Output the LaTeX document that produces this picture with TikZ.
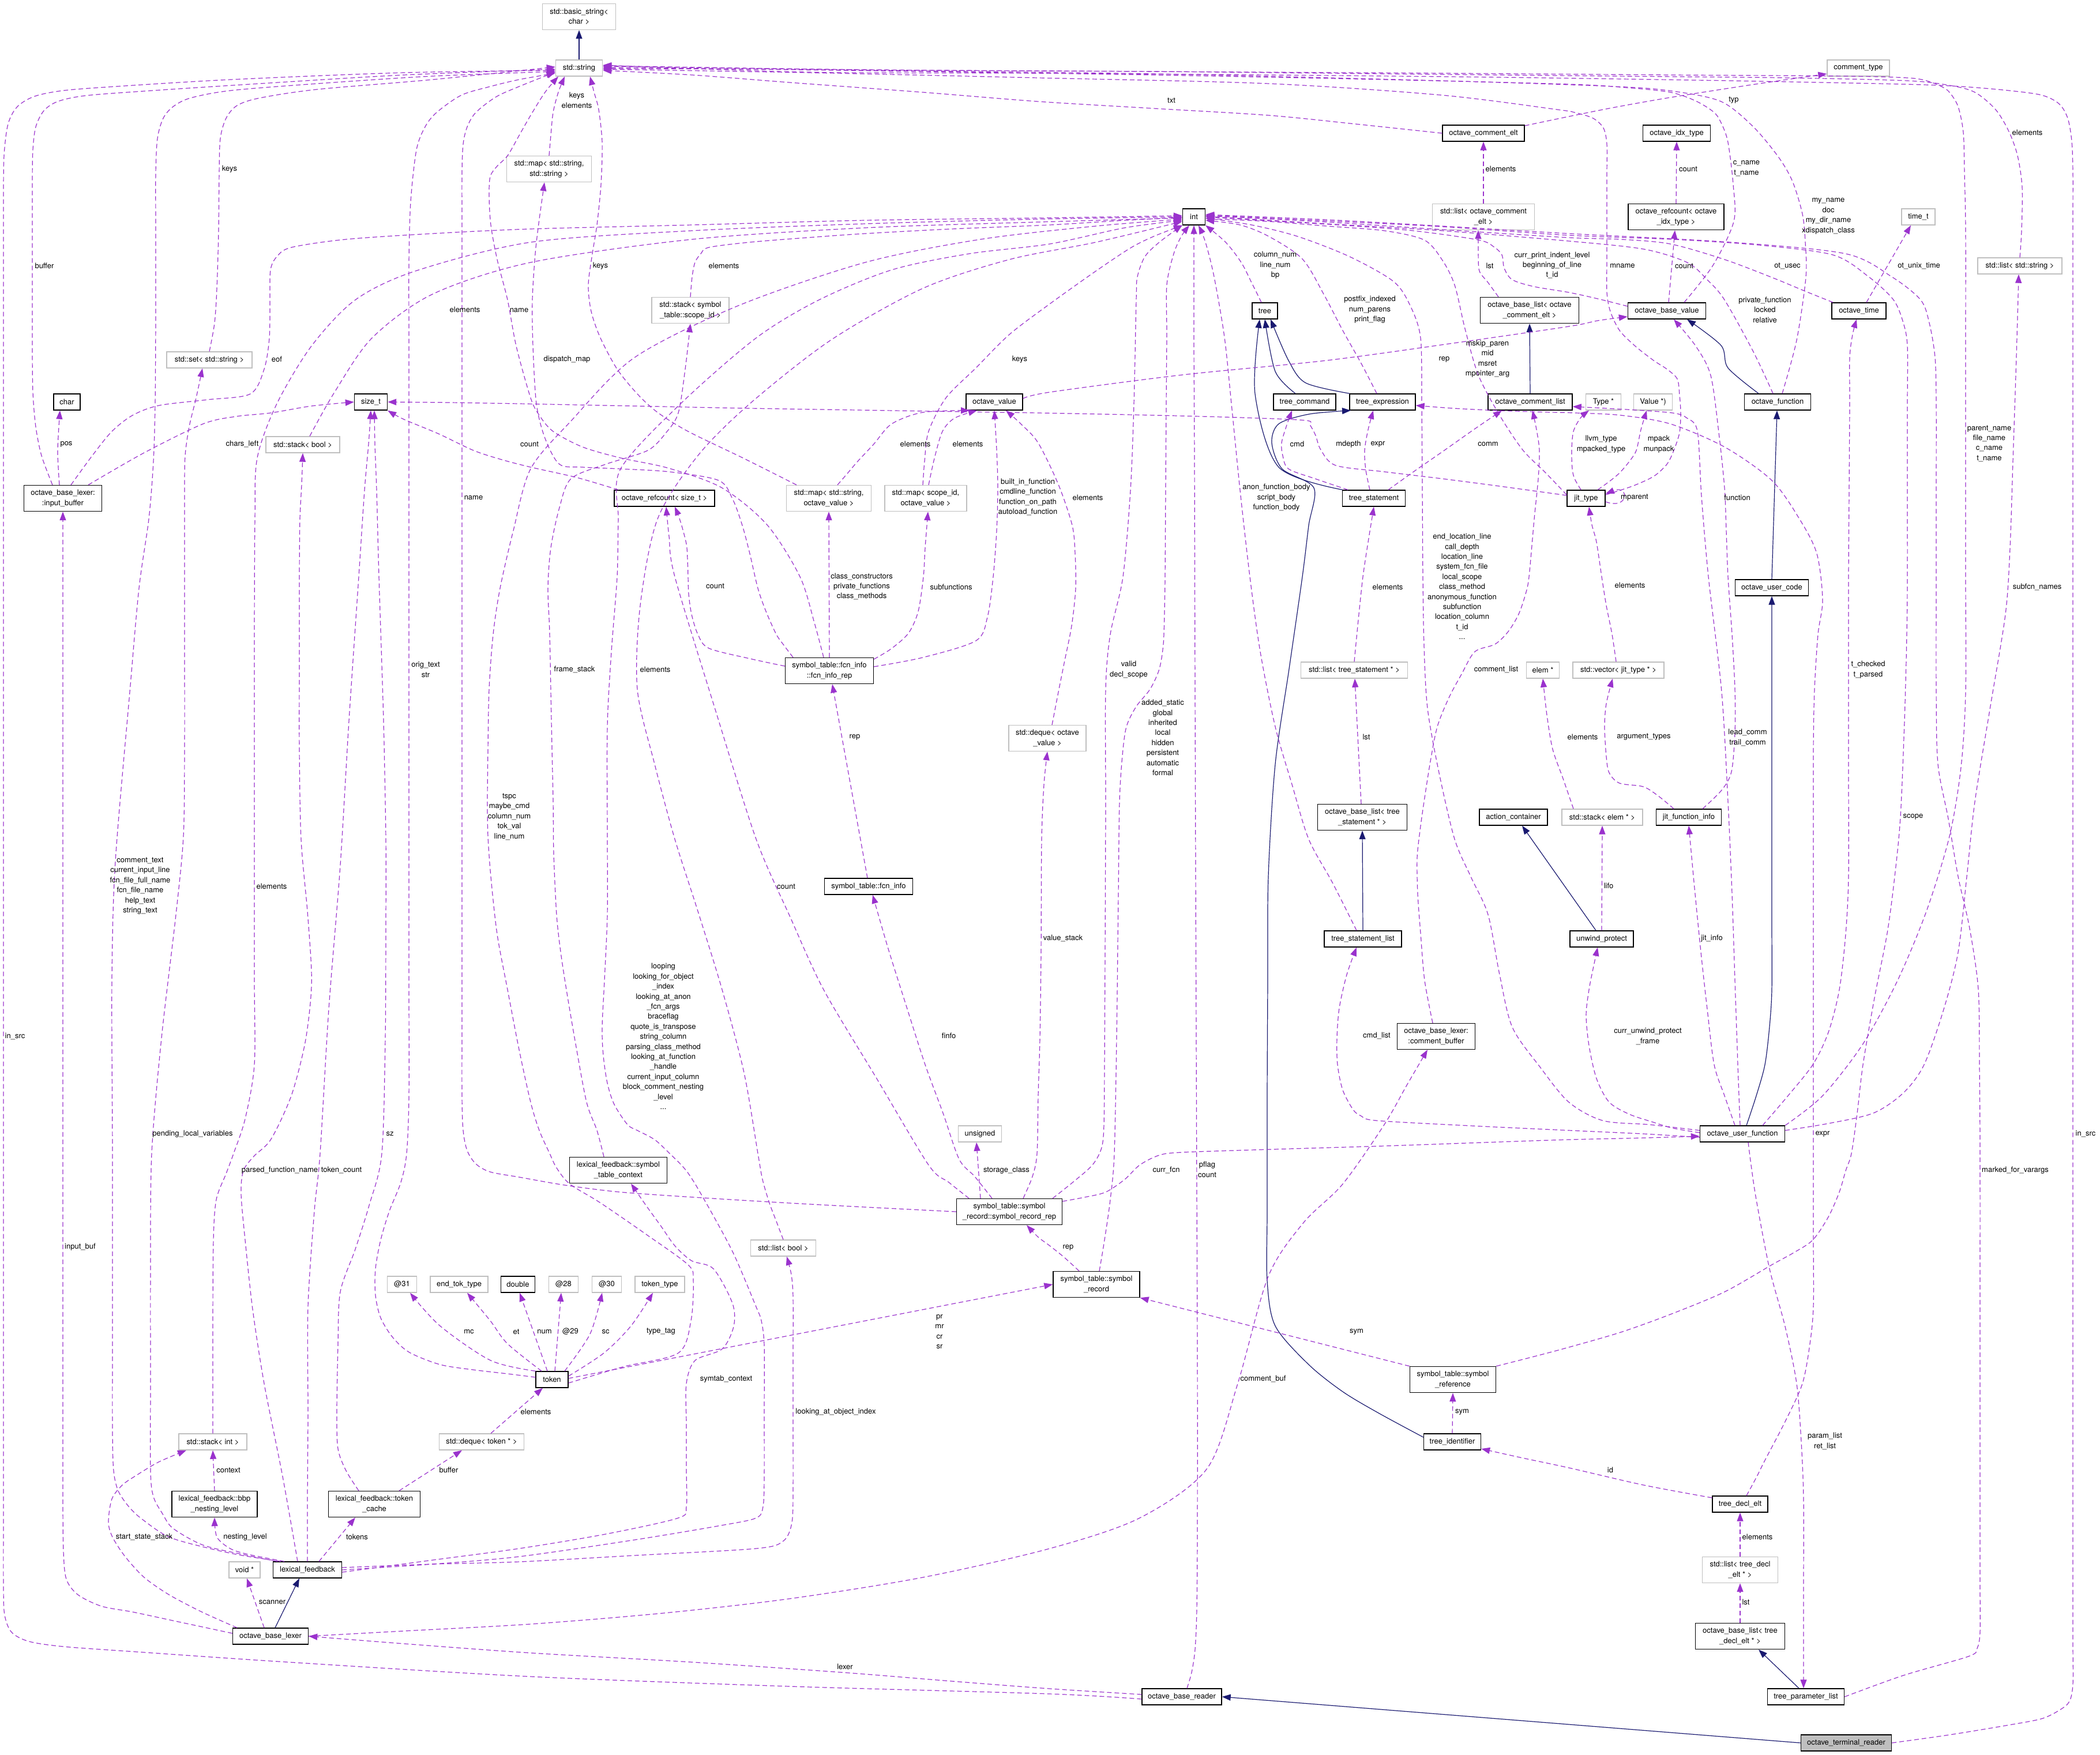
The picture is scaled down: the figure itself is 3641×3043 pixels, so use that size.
\documentclass[tikz,border=0pt]{standalone}
\usepackage{fontspec}
\setmainfont{TeX Gyre Heros}
\usetikzlibrary{arrows.meta}
\definecolor{purp}{HTML}{9A32CD}
\definecolor{navy}{HTML}{191970}
\definecolor{extg}{HTML}{BFBFBF}
\definecolor{fillg}{HTML}{BFBFBF}
\newcommand\dfont{\fontsize{13}{17.4}\selectfont}
\begin{document}
\begin{tikzpicture}[x=1pt,y=-1pt,
 box/.style={draw=black, line width=1.4pt, inner sep=0pt, font=\dfont, align=center, minimum height=28pt},
 ext/.style={box, draw=extg},
 two/.style={minimum height=45pt},
 mem/.style={draw=purp, line width=1.2pt, dash pattern=on 8pt off 5pt, -{Triangle[length=15pt,width=11pt]}},
 inh/.style={draw=navy, line width=1.2pt, -{Triangle[length=15pt,width=11pt]}},
 lbl/.style={font=\dfont, align=center, inner sep=0pt}]
\fill[white] (0,0) rectangle (3641,3043);
\useasboundingbox (0,0) rectangle (3641,3043);
% ---------------- nodes
\node[ext,two,minimum width=127pt] (bstr) at (1004,29) {std::basic\_string<\\char >};
\node[ext,minimum width=81pt] (str) at (1004,118) {std::string};
\node[ext,minimum width=148pt] (setstr) at (363,624) {std::set< std::string >};
\node[box,minimum width=46pt] (chr) at (116,697) {char};
\node[box,minimum width=57pt] (sizet) at (643,697) {size\_t};
\node[ext,minimum width=128pt] (stkbool) at (525,771) {std::stack< bool >};
\node[box,two,minimum width=135pt] (inbuf) at (109,864) {octave\_base\_lexer:\\:input\_buffer};
\node[ext,two,minimum width=147pt] (mapss) at (952,293) {std::map< std::string,\\std::string >};
\node[ext,two,minimum width=134pt] (stkscope) at (1197,538) {std::stack< symbol\\\_table::scope\_id >};
\node[box,minimum width=98pt] (ovalue) at (1724,697) {octave\_value};
\node[box,minimum width=174pt] (rcsize) at (1152,864) {octave\_refcount< size\_t >};
\node[ext,two,minimum width=147pt] (mapsov) at (1437,864) {std::map< std::string,\\octave\_value >};
\node[ext,two,minimum width=142pt] (mapidov) at (1605,864) {std::map< scope\_id,\\octave\_value >};
\node[box,minimum width=39pt] (int) at (2070,376) {int};
\node[box,minimum width=142pt] (celt) at (2572,231) {octave\_comment\_elt};
\node[ext,two,minimum width=177pt] (listcelt) at (2572,376) {std::list< octave\_comment\\\_elt >};
\node[box,minimum width=44pt] (tree) at (2193,539) {tree};
\node[box,two,minimum width=171pt] (blcelt) at (2652,538) {octave\_base\_list< octave\\\_comment\_elt >};
\node[box,minimum width=108pt] (tcmd) at (2262,697) {tree\_command};
\node[box,minimum width=114pt] (texpr) at (2397,697) {tree\_expression};
\node[box,minimum width=146pt] (clist) at (2653,697) {octave\_comment\_list};
\node[box,minimum width=109pt] (tstmt) at (2382,864) {tree\_statement};
\node[box,minimum width=66pt] (jittype) at (2750,864) {jit\_type};
\node[ext,minimum width=108pt] (ctype) at (3222,118) {comment\_type};
\node[box,minimum width=117pt] (idxtype) at (2907,231) {octave\_idx\_type};
\node[box,two,minimum width=166pt] (rcidx) at (2906,376) {octave\_refcount< octave\\\_idx\_type >};
\node[ext,minimum width=58pt] (timet) at (3326,376) {time\_t};
\node[ext,minimum width=146pt] (liststr) at (3502,461) {std::list< std::string >};
\node[box,minimum width=135pt] (obv) at (2890,539) {octave\_base\_value};
\node[box,minimum width=94pt] (otime) at (3223,539) {octave\_time};
\node[ext,minimum width=61pt] (typep) at (2780,697) {Type *};
\node[ext,minimum width=67pt] (valuep) at (2866,697) {Value *)};
\node[box,minimum width=115pt] (ofcn) at (3082,697) {octave\_function};
\node[box,minimum width=127pt] (ucode) at (3072,1019) {octave\_user\_code};
\node[box,two,minimum width=153pt] (fcnrep) at (1438,1163) {symbol\_table::fcn\_info\\::fcn\_info\_rep};
\node[ext,minimum width=158pt] (vecjit) at (2806,1162) {std::vector< jit\_type * >};
\node[ext,minimum width=185pt] (liststmt) at (2348,1162) {std::list< tree\_statement * >};
\node[ext,minimum width=57pt] (elemp) at (2675,1162) {elem *};
\node[ext,two,minimum width=134pt] (dequeov) at (1816,1280) {std::deque< octave\\\_value >};
\node[box,two,minimum width=155pt] (blstmt) at (2362,1417) {octave\_base\_list< tree\\\_statement * >};
\node[box,minimum width=118pt] (actc) at (2624,1417) {action\_container};
\node[ext,minimum width=140pt] (stkelem) at (2778,1417) {std::stack< elem * >};
\node[box,minimum width=113pt] (jitfi) at (2928,1417) {jit\_function\_info};
\node[box,minimum width=153pt] (fcninfo) at (1506,1537) {symbol\_table::fcn\_info};
\node[box,minimum width=110pt] (unwind) at (2777,1628) {unwind\_protect};
\node[box,minimum width=134pt] (tslist) at (2363,1628) {tree\_statement\_list};
\node[box,two,minimum width=135pt] (cbuf) at (2490,1797) {octave\_base\_lexer:\\:comment\_buffer};
\node[ext,minimum width=75pt] (unsgn) at (1699,1966) {unsigned};
\node[box,minimum width=147pt] (ufcn) at (3021,1966) {octave\_user\_function};
\node[box,two,minimum width=169pt] (stctx) at (1072,2029) {lexical\_feedback::symbol\\\_table\_context};
\node[box,two,minimum width=183pt] (srrep) at (1750,2101) {symbol\_table::symbol\\\_record::symbol\_record\_rep};
\node[ext,minimum width=113pt] (listbool) at (1358,2164) {std::list< bool >};
\node[ext,minimum width=51pt] (a31) at (697,2227) {@31};
\node[ext,minimum width=100pt] (endtok) at (796,2227) {end\_tok\_type};
\node[box,minimum width=59pt] (dbl) at (898,2227) {double};
\node[ext,minimum width=51pt] (a28) at (977,2227) {@28};
\node[ext,minimum width=51pt] (a30) at (1052,2227) {@30};
\node[ext,minimum width=86pt] (toktype) at (1144,2227) {token\_type};
\node[box,minimum width=56pt] (token) at (957,2392) {token};
\node[box,two,minimum width=150pt] (srec) at (1901,2227) {symbol\_table::symbol\\\_record};
\node[box,two,minimum width=149pt] (sref) at (2519,2392) {symbol\_table::symbol\\\_reference};
\node[ext,minimum width=118pt] (stkint) at (369,2500) {std::stack< int >};
\node[ext,minimum width=147pt] (dequetok) at (835,2500) {std::deque< token * >};
\node[box,minimum width=99pt] (tident) at (2518,2500) {tree\_identifier};
\node[box,two,minimum width=148pt] (bbp) at (372,2608) {lexical\_feedback::bbp\\\_nesting\_level};
\node[box,two,minimum width=159pt] (tcache) at (649,2608) {lexical\_feedback::token\\\_cache};
\node[box,minimum width=96pt] (tdecl) at (3017,2608) {tree\_decl\_elt};
\node[ext,minimum width=54pt] (voidp) at (424,2722) {void *};
\node[box,minimum width=119pt] (lexfb) at (533,2722) {lexical\_feedback};
\node[ext,two,minimum width=131pt] (listdecl) at (3017,2722) {std::list< tree\_decl\\\_elt * >};
\node[box,minimum width=131pt] (obl) at (469,2837) {octave\_base\_lexer};
\node[box,two,minimum width=155pt] (bldecl) at (3017,2837) {octave\_base\_list< tree\\\_decl\_elt * >};
\node[box,minimum width=138pt] (obr) at (2049,2942) {octave\_base\_reader};
\node[box,minimum width=133pt] (tplist) at (3131,2942) {tree\_parameter\_list};
\node[box,fill=fillg,minimum width=157pt] (otr) at (3201,3022) {octave\_terminal\_reader};
% ---------------- inheritance
\draw[inh] (str.north) -- (bstr.south);
\draw[inh] plot[smooth] coordinates {([xshift=-16pt]tcmd.north) (2211,644) (tree.south)};
\draw[inh] plot[smooth] coordinates {([xshift=-57pt]texpr.north) (2264,664) (2234,625) ([xshift=10pt]tree.south)};
\draw[inh] plot[smooth] coordinates {([xshift=-54pt]tstmt.north) (2217,810) (2176,683) ([xshift=-9pt]tree.south)};
\draw[inh] plot[smooth] coordinates {([yshift=8pt]tident.west) (2390,2450) (2328,2413) (2269,2366) (2211,2299) (2197,2220) (2197,2100) (2197,1900) (2198,1700) (2199,1520) (2211,1325) (2235,1160) (2258,1000) (2269,911) (2278,846) (2223,813) (2205,768) (2217,735) (2270,718) ([xshift=-55pt]texpr.south)};
\draw[inh] (clist.north) -- (blcelt.south);
\draw[inh] plot[smooth] coordinates {([xshift=-33pt]ofcn.north) (2996,638) (2984,599) ([xshift=35pt]obv.south)};
\draw[inh] (ucode.north) -- ([xshift=-1pt]ofcn.south);
\draw[inh] plot[smooth] coordinates {([xshift=7pt]ufcn.north) (3045,1900) (3060,1846) (3068,1780) (3072,1716) (3072,1600) (3072,1450) (3072,1300) (3072,1180) (3072,1100) (ucode.south)};
\draw[inh] (tslist.north) -- (blstmt.south);
\draw[inh] ([xshift=-10pt]unwind.north) -- ([xshift=15pt]actc.south);
\draw[inh] ([xshift=-12pt]tplist.north) -- ([xshift=32pt]bldecl.south);
\draw[inh] ([xshift=8pt]obl.north) -- ([xshift=-14pt]lexfb.south);
\draw[inh] (otr.west) -- (obr.east);
% ---------------- members into std::string
\draw[mem] plot[smooth] coordinates {([yshift=-4pt]obr.west) (1820,2937) (1369,2924) (920,2907) (500,2882) (235,2864) (110,2855) (50,2846) (20,2830) (8,2800) (6,2750) (6,2600) (6,2300) (6,1900) (6,1400) (6,900) (6,500) (6,350) (7,270) (14,215) (30,185) (60,167) (110,157) (200,150) (400,138) (700,126) ([yshift=-4pt]str.west)};
\draw[mem] plot[smooth] coordinates {([xshift=-18pt]inbuf.north) (72,790) (62,740) (57,680) (56,600) (56,450) (56,320) (57,260) (62,220) (76,192) (100,176) (147,166) (250,158) (450,145) (700,130) ([yshift=-2pt]str.west)};
\draw[mem] plot[smooth] coordinates {(setstr.north) (372,560) (376,500) (379,400) (380,300) (382,240) (392,205) (411,183) (450,170) (550,155) (750,138) ([yshift=2pt]str.west)};
\draw[mem] plot[smooth] coordinates {([xshift=-46pt]lexfb.north) (420,2697) (364,2685) (293,2665) (245,2633) (223,2612) (205,2585) (197,2550) (195,2480) (195,2300) (195,2000) (194,1700) (200,1494) (225,1200) (241,1020) (258,900) (266,800) (269,700) (270,550) (270,400) (270,300) (273,240) (283,205) (300,185) (330,170) (400,157) (550,145) (750,132) ([yshift=-6pt]str.west)};
\draw[mem] plot[smooth] coordinates {([yshift=4pt]token.west) (880,2382) (820,2375) (763,2366) (710,2345) (681,2319) (660,2285) (651,2246) (651,2200) (660,2150) (675,2100) (695,2050) (705,2000) (709,1900) (709,1700) (709,1400) (709,1100) (709,800) (709,600) (709,455) (712,350) (722,260) (737,220) (757,195) (800,165) (850,150) (900,138) ([yshift=-9pt]str.west)};
\draw[mem] plot[smooth] coordinates {(srrep.west) (1500,2093) (1369,2086) (1220,2077) (1076,2067) (980,2055) (900,2041) (850,2032) (825,2018) (810,1995) (803,1960) (801,1900) (801,1750) (801,1500) (801,1200) (801,900) (801,600) (801,400) (801,300) (803,250) (810,220) (825,195) (860,168) (900,150) ([yshift=-7pt]str.west)};
\draw[mem] plot[smooth] coordinates {([xshift=-10pt]fcnrep.north) (1412,1080) (1387,1000) (1330,910) (1252,846) (1160,812) (1076,794) (1010,775) (959,748) (935,720) (920,690) (895,600) (880,520) (862,450) (851,390) (848,340) (850,306) (862,288) (880,270) (900,235) (920,200) (945,160) ([xshift=-36pt]str.south)};
\draw[mem] plot[smooth] coordinates {(mapss.north) (955,235) (959,195) (968,160) ([xshift=-25pt]str.south)};
\draw[mem] plot[smooth] coordinates {([xshift=-56pt]mapsov.north) (1290,795) (1193,748) (1140,715) (1105,683) (1070,640) (1041,586) (1025,540) (1020,494) (1027,440) (1035,390) (1042,320) (1044,247) (1038,190) (1030,160) ([xshift=19pt]str.south)};
\draw[mem] plot[smooth] coordinates {(celt.west) (2350,215) (2200,200) (2000,188) (1800,176) (1600,160) (1369,143) (1200,130) ([yshift=-4pt]str.east)};
\draw[mem] plot[smooth] coordinates {([xshift=30pt]obv.north) (2970,460) (3006,384) (3005,320) (2996,247) (2985,215) (2972,195) (2940,175) (2896,160) (2820,152) (2720,146) (2400,138) (2000,130) (1600,124) (1300,120) ([yshift=-1pt]str.east)};
\draw[mem] plot[smooth] coordinates {([xshift=8pt]ofcn.north) (3115,590) (3131,481) (3130,420) (3125,371) (3108,315) (3084,273) (3040,220) (2984,176) (2900,158) (2800,150) (2500,140) (2000,128) (1500,122) ([yshift=1pt]str.east)};
\draw[mem] plot[smooth] coordinates {([yshift=6pt]jittype.east) (2830,843) (2867,826) (2890,805) (2902,781) (2912,750) (2914,716) (2912,685) (2908,657) (2890,640) (2867,625) (2835,600) (2808,573) (2792,540) (2786,507) (2786,450) (2786,350) (2786,300) (2786,250) (2780,222) (2762,205) (2730,195) (2700,190) (2500,165) (2200,145) (1800,135) (1400,126) ([yshift=-2pt]str.east)};
\draw[mem] plot[smooth] coordinates {(ufcn.north east) (3160,1900) (3230,1810) (3290,1700) (3340,1580) (3380,1450) (3400,1330) (3408,1200) (3408,1000) (3408,800) (3408,600) (3408,400) (3406,300) (3404,230) (3395,185) (3380,160) (3366,150) (3340,140) (3307,135) (3200,132) (2900,130) (2500,127) (2000,124) (1500,121) ([yshift=3pt]str.east)};
\draw[mem] plot[smooth] coordinates {(liststr.north) (3505,400) (3506,325) (3498,270) (3483,228) (3460,190) (3424,160) (3380,148) (3307,140) (3100,135) (2800,132) (2400,128) (2000,124) (1500,121) ([yshift=4pt]str.east)};
\draw[mem] plot[smooth] coordinates {(otr.east) (3380,3008) (3483,2991) (3540,2980) (3571,2965) (3588,2950) (3594,2920) (3594,2850) (3594,2700) (3594,2400) (3594,2000) (3594,1600) (3594,1200) (3594,800) (3594,400) (3594,300) (3592,245) (3585,205) (3570,180) (3540,165) (3483,157) (3400,150) (3300,146) (3000,140) (2600,134) (2200,130) (1800,127) (1400,125) ([yshift=5pt]str.east)};
% ---------------- input buffer / lexer
\draw[mem] plot[smooth] coordinates {([yshift=4pt]obr.west) (1820,2928) (1650,2915) (1463,2900) (1200,2882) (920,2866) (700,2850) (obl.east)};
\draw[mem] plot[smooth] coordinates {([xshift=-6pt]inbuf.north) (100,781) ([xshift=-12pt]chr.south)};
\draw[mem] plot[smooth] coordinates {([xshift=14pt]inbuf.north) (160,790) (194,748) (230,720) (276,703) (360,693) (434,683) (458,640) (467,586) (468,520) (469,468) (480,445) (505,429) (600,415) (750,405) (920,397) (1200,390) (1500,382) (1800,378) ([yshift=2pt]int.west)};
\draw[mem] plot[smooth] coordinates {([xshift=44pt]inbuf.north) (250,785) (352,735) (410,722) (469,716) (540,704) (sizet.west)};
\draw[mem] plot[smooth] coordinates {([xshift=12pt]stkbool.north) (580,680) (645,586) (750,510) (920,455) (1200,415) (1500,395) (1800,385) ([yshift=-2pt]int.west)};
\draw[mem] plot[smooth] coordinates {([yshift=5pt]obl.west) (300,2810) (230,2795) (176,2785) (135,2765) (115,2738) (110,2690) (109,2600) (109,2400) (109,2000) (109,1600) (109,1300) (109,1100) (109,1000) (inbuf.south)};
\draw[mem] plot[smooth] coordinates {([xshift=-52pt]lexfb.north) (420,2695) (352,2679) (300,2650) (282,2625) (266,2595) (261,2550) (261,2400) (261,2200) (263,2000) (280,1800) (305,1586) (318,1450) (320,1300) (320,1100) (320,950) (320,850) (321,790) (328,740) (340,690) ([xshift=-12pt]setstr.south)};
\draw[mem] plot[smooth] coordinates {([xshift=-17pt]lexfb.north) (490,2560) (458,2399) (438,2270) (425,2150) (418,2070) (422,2030) (440,2005) (470,1975) (505,1900) (528,1813) (538,1740) (540,1683) (533,1580) (522,1455) (519,1300) (519,1150) (519,1000) (520,900) (523,840) (stkbool.south)};
\draw[mem] plot[smooth] coordinates {(lexfb.north) (533,2600) (534,2450) (534,2266) (545,2100) (555,2000) (570,1750) (590,1500) (605,1250) (622,1000) (632,850) (639,770) (sizet.south)};
\draw[mem] plot[smooth] coordinates {([xshift=-27pt]tcache.north) (600,2550) (586,2512) (584,2450) (586,2330) (590,2240) (616,2166) (640,2090) (662,2000) (668,1800) (669,1600) (669,1455) (665,1250) (657,1000) (653,850) (650,770) ([xshift=6pt]sizet.south)};
\draw[mem] plot[smooth] coordinates {(stkint.north) (369,2300) (370,2150) (375,2080) (392,2035) (405,2000) (425,1940) (441,1846) (441,1700) (441,1500) (441,1300) (441,1100) (442,900) (446,794) (480,700) (540,600) (616,520) (720,470) (920,420) (1200,400) (1500,388) (1800,380) (int.west)};
\draw[mem] (bbp.north) -- (stkint.south);
\draw[mem] plot[smooth] coordinates {([xshift=-58pt]obl.north) (350,2795) (293,2765) (250,2735) (217,2699) (195,2665) (188,2639) (194,2599) (212,2575) (235,2559) (275,2535) ([xshift=-46pt]stkint.south)};
\draw[mem] plot[smooth] coordinates {([xshift=-40pt]lexfb.north) (430,2695) (399,2685) (376,2665) (bbp.south)};
\draw[mem] ([xshift=20pt]lexfb.north) -- ([xshift=-33pt]tcache.south);
\draw[mem] ([xshift=43pt]tcache.north) -- ([xshift=-34pt]dequetok.south);
\draw[mem] ([xshift=16pt]dequetok.north) -- ([xshift=-16pt]token.south);
\draw[mem] ([xshift=-11pt]obl.north) -- ([xshift=4pt]voidp.south);
\draw[mem] plot[smooth] coordinates {(obl.east) (700,2828) (920,2816) (1150,2797) (1369,2772) (1600,2735) (1820,2685) (1976,2632) (2093,2546) (2146,2399) (2199,2213) (2260,2120) (2328,2053) (2400,1950) (2440,1880) ([xshift=-15pt]cbuf.south)};
% ---------------- token
\draw[mem] plot[smooth] coordinates {(token.north west) (851,2359) (763,2299) ([xshift=14pt]a31.south)};
\draw[mem] plot[smooth] coordinates {([xshift=-18pt]token.north) (880,2330) (850,2290) ([xshift=14pt]endtok.south)};
\draw[mem] ([xshift=-8pt]token.north) -- ([xshift=3pt]dbl.south);
\draw[mem] ([xshift=5pt]token.north) -- ([xshift=-4pt]a28.south);
\draw[mem] plot[smooth] coordinates {([xshift=22pt]token.north) (1023,2313) ([xshift=-8pt]a30.south)};
\draw[mem] plot[smooth] coordinates {([yshift=6pt]token.east) (1047,2346) (1094,2299) ([xshift=-12pt]toktype.south)};
\draw[mem] ([yshift=2pt]token.east) -- (srec.west);
\draw[mem] plot[smooth] coordinates {([yshift=-6pt]token.east) (1080,2370) (1176,2346) (1198,2290) (1202,2220) (1193,2193) (1120,2140) (1040,2085) (988,2053) (965,2025) (953,2000) (935,1960) (920,1911) (900,1820) (880,1716) (862,1620) (851,1520) (846,1450) (845,1390) (846,1300) (848,1195) (855,1100) (867,1020) (890,920) (920,813) (990,730) (1100,620) (1280,530) (1500,455) (1700,415) (1900,392) ([yshift=-4pt]int.west)};
% ---------------- lexical feedback
\draw[mem] plot[smooth] coordinates {([yshift=-4pt]lexfb.east) (750,2705) (900,2685) (1050,2660) (1176,2632) (1190,2612) (1190,2550) (1190,2470) (1190,2399) (1205,2359) (1252,2339) (1272,2300) (1270,2260) (1237,2200) (1199,2186) (1170,2160) (1146,2126) (1120,2090) ([xshift=22pt]stctx.south)};
\draw[mem] plot[smooth] coordinates {(lexfb.east) (750,2712) (900,2699) (1100,2670) (1250,2645) (1311,2632) (1323,2612) (1325,2560) (1325,2450) (1325,2333) (1320,2290) (1311,2266) (1270,2170) (1217,2073) (1190,2030) (1161,2000) (1135,1976) (1105,1960) (1088,1950) (1065,1915) (1053,1878) (1046,1830) (1044,1781) (1048,1700) (1053,1586) (1053,1450) (1053,1260) (1060,1130) (1070,1000) (1072,900) (1076,813) (1180,700) (1311,586) (1420,520) (1546,468) (1680,440) (1820,423) (1950,395) ([yshift=-6pt]int.west)};
\draw[mem] plot[smooth] coordinates {([yshift=4pt]lexfb.east) (750,2712) (900,2708) (1100,2697) (1311,2685) (1358,2672) (1373,2640) (1375,2580) (1375,2480) (1375,2350) (1375,2250) (1372,2210) ([xshift=6pt]listbool.south)};
\draw[mem] plot[smooth] coordinates {(listbool.north) (1345,2115) (1334,2086) (1322,2045) (1314,2000) (1290,1860) (1252,1716) (1210,1580) (1170,1455) (1135,1325) (1105,1195) (1110,1050) (1140,900) (1210,790) (1300,700) (1440,590) (1600,500) (1750,450) (1900,420) ([yshift=-8pt]int.west)};
\draw[mem] plot[smooth] coordinates {([xshift=-25pt]stctx.north) (1035,1960) (1017,1911) (998,1810) (982,1716) (972,1650) (965,1586) (960,1480) (959,1390) (956,1250) (953,1098) (950,1020) (955,950) (970,880) (990,830) (1050,805) (1123,781) (1155,750) (1176,716) (1188,640) (stkscope.south)};
% ---------------- symbol table
\draw[mem] plot[smooth] coordinates {([xshift=-63pt]fcnrep.north) (1360,1120) (1346,1100) (1328,1060) (1314,1020) (1300,960) (1287,911) (1270,865) (1246,833) (1160,818) (1076,813) (1010,810) (970,805) (945,760) (930,700) (924,600) (923,520) (928,440) (935,380) ([xshift=-8pt]mapss.south)};
\draw[mem] plot[smooth] coordinates {([yshift=8pt]fcnrep.west) (1300,1142) (1229,1124) (1210,1100) (1199,1065) (1194,1030) (1193,1000) (1192,970) (1190,943) (1180,905) ([xshift=18pt]rcsize.south)};
\draw[mem] (fcnrep.north) -- (mapsov.south);
\draw[mem] plot[smooth] coordinates {([yshift=20pt]fcnrep.east) (1545,1125) (1575,1098) (1592,1060) (1601,1000) (1604,950) ([xshift=4pt]mapidov.south)};
\draw[mem] plot[smooth] coordinates {([yshift=7pt]fcnrep.east) (1600,1140) (1692,1111) (1712,1070) (1722,1000) (1728,920) (1730,846) (1728,780) (ovalue.south)};
\draw[mem] ([xshift=-2pt]fcninfo.north) -- ([xshift=5pt]fcnrep.south);
\draw[mem] plot[smooth] coordinates {([xshift=-80pt]rcsize.north) (1000,828) (920,810) (870,797) (821,781) (760,752) (700,727) (sizet.south east)};
\draw[mem] plot[smooth] coordinates {([xshift=15pt]mapsov.north) (1470,820) (1487,800) (1515,770) (1546,735) (1600,715) ([xshift=-43pt]ovalue.south)};
\draw[mem] plot[smooth] coordinates {([xshift=5pt]mapidov.north) (1620,795) (1634,748) (1655,725) ([xshift=-30pt]ovalue.south)};
\draw[mem] plot[smooth] coordinates {([xshift=-5pt]mapidov.north) (1603,800) (1610,748) (1640,690) (1692,638) (1750,580) (1820,527) (1900,470) (1960,430) (2000,410) (int.south west)};
\draw[mem] plot[smooth] coordinates {(stkscope.north) (1200,480) (1205,455) (1215,440) (1229,429) (1300,420) (1400,412) (1500,405) (1650,397) (1820,390) (1950,382) ([yshift=-1pt]int.west)};
\draw[mem] plot[smooth] coordinates {([xshift=8pt]dequeov.north) (1835,1200) (1845,1150) (1858,1085) (1865,1020) (1864,960) (1859,911) (1835,840) (1800,768) (1770,735) ([xshift=20pt]ovalue.south)};
\draw[mem] plot[smooth] coordinates {([xshift=24pt]srrep.north) (1790,2040) (1798,2000) (1800,1900) (1803,1800) (1805,1650) (1806,1456) (1810,1360) (dequeov.south)};
\draw[mem] ([xshift=-50pt]srrep.north) -- ([xshift=-6pt]unsgn.south);
\draw[mem] plot[smooth] coordinates {([xshift=-30pt]srrep.north) (1690,2040) (1663,2010) (1635,1930) (1604,1846) (1570,1740) (1540,1645) ([xshift=7pt]fcninfo.south)};
\draw[mem] plot[smooth] coordinates {([xshift=-70pt]srrep.north) (1645,2050) (1610,2020) (1520,1870) (1428,1716) (1370,1590) (1311,1455) (1240,1230) (1170,1000) (1160,930) ([xshift=3pt]rcsize.south)};
\draw[mem] plot[smooth] coordinates {([yshift=18pt]srrep.east) (1880,2076) (1917,2067) (1950,2045) (1976,2020) (2010,2003) (2050,1998) (2200,1993) (2400,1987) (2600,1980) (2720,1976) (2850,1973) ([yshift=-4pt]ufcn.west)};
\draw[mem] plot[smooth] coordinates {([xshift=75pt]srrep.north) (1860,2050) (1894,2020) (1910,1990) (1914,1950) (1915,1850) (1916,1650) (1917,1400) (1917,1195) (1925,1100) (1947,1000) (1960,850) (1966,700) (1970,520) (1972,480) (1985,445) (2010,420) (int.south west)};
\draw[mem] plot[smooth] coordinates {([xshift=-30pt]srec.north) (1845,2180) (1820,2160) (1800,2145) ([xshift=30pt]srrep.south)};
\draw[mem] plot[smooth] coordinates {([xshift=5pt]srec.north) (1915,2150) (1925,2080) (1932,2000) (1936,1800) (1939,1550) (1941,1390) (1946,1310) (1953,1260) (1970,1225) (1994,1195) (2010,1160) (2017,1117) (2019,1060) (2020,1000) (2021,850) (2022,700) (2023,580) (2023,494) (2035,440) (2048,410) ([xshift=-8pt]int.south)};
\draw[mem] (sref.north west) -- (srec.south east);
\draw[mem] (tident.north) -- (sref.south);
\draw[mem] plot[smooth] coordinates {(sref.north east) (2660,2352) (2720,2336) (2810,2310) (2896,2279) (2990,2240) (3072,2193) (3110,2172) (3143,2150) (3170,2110) (3189,2067) (3200,2030) (3210,2000) (3220,1930) (3230,1846) (3250,1730) (3272,1618) (3285,1520) (3295,1416) (3302,1250) (3306,1100) (3307,1000) (3307,850) (3307,700) (3307,600) (3300,560) (3283,520) (3240,480) (3178,442) (3050,425) (2900,415) (2720,408) (2500,393) (2300,383) ([yshift=3pt]int.east)};
% ---------------- tree and int
\draw[mem] plot[smooth] coordinates {([xshift=-6pt]tree.north) (2170,490) (2152,455) (2125,420) (int.south east)};
\draw[mem] plot[smooth] coordinates {([xshift=-10pt]texpr.north) (2360,630) (2328,573) (2295,510) (2258,449) (2200,410) (2150,390) ([yshift=-6pt]int.east)};
\draw[mem] plot[smooth] coordinates {([xshift=-11pt]tslist.north) (2310,1530) (2269,1455) (2240,1360) (2211,1260) (2185,1130) (2167,1000) (2150,850) (2135,700) (2123,585) (2105,480) (2090,420) ([xshift=8pt]int.south)};
\draw[mem] plot[smooth] coordinates {([xshift=9pt]obr.north) (2066,2900) (2072,2860) (2075,2790) (2076,2650) (2076,2350) (2074,1800) (2072,1200) (2071,800) (2070,600) (2070,490) (2070,430) (int.south)};
\draw[mem] plot[smooth] coordinates {([yshift=6pt]jittype.west) (2680,820) (2640,780) (2600,720) (2563,650) (2540,570) (2522,494) (2500,450) (2469,416) (2400,400) (2300,392) (2200,384) ([yshift=-3pt]int.east)};
\draw[mem] plot[smooth] coordinates {([yshift=6pt]ufcn.west) (2860,1950) (2779,1943) (2720,1911) (2670,1850) (2622,1781) (2600,1690) (2580,1586) (2550,1520) (2522,1455) (2495,1340) (2475,1228) (2469,1120) (2467,1000) (2466,850) (2465,700) (2463,586) (2445,530) (2416,488) (2340,445) (2250,410) (2170,390) ([yshift=-2pt]int.east)};
\draw[mem] plot[smooth] coordinates {([yshift=8pt]obv.west) (2770,518) (2720,507) (2660,497) (2622,485) (2608,465) (2604,442) (2590,428) (2563,416) (2450,400) (2320,390) (2200,383) (int.east)};
\draw[mem] plot[smooth] coordinates {([xshift=-8pt]ofcn.north) (3040,610) (2990,520) (2960,485) (2925,455) (2850,432) (2720,418) (2500,400) (2300,388) ([yshift=1pt]int.east)};
\draw[mem] plot[smooth] coordinates {([xshift=-45pt]otime.north) (3130,505) (3072,481) (2990,450) (2896,423) (2810,415) (2720,412) (2500,398) (2300,385) ([yshift=2pt]int.east)};
\draw[mem] plot[smooth] coordinates {(tplist.east) (3300,2905) (3413,2872) (3428,2858) (3433,2830) (3433,2750) (3433,2600) (3433,2350) (3433,2000) (3432,1850) (3430,1716) (3415,1610) (3395,1520) (3378,1420) (3360,1325) (3357,1200) (3357,1000) (3357,850) (3357,700) (3355,620) (3345,560) (3330,520) (3280,480) (3200,440) (3000,420) (2720,405) (2500,392) (2300,381) ([yshift=4pt]int.east)};
\draw[mem] plot[smooth] coordinates {([xshift=-45pt]tstmt.north) (2280,830) (2234,813) (2224,790) (2222,768) (2230,740) ([xshift=-22pt]tcmd.south)};
\draw[mem] plot[smooth] coordinates {([xshift=-7pt]tstmt.north) (2368,815) (2366,781) (2372,745) ([xshift=-16pt]texpr.south)};
\draw[mem] plot[smooth] coordinates {([xshift=25pt]tstmt.north) (2455,815) (2504,781) (2555,745) ([xshift=-49pt]clist.south)};
\draw[mem] plot[smooth] coordinates {(liststmt.north) (2355,1075) (2363,1000) (2372,940) (tstmt.south)};
\draw[mem] ([xshift=-2pt]blstmt.north) -- ([xshift=1pt]liststmt.south);
\draw[mem] plot[smooth] coordinates {([xshift=-6pt]cbuf.north) (2470,1700) (2463,1618) (2458,1550) (2457,1488) (2462,1440) (2469,1390) (2480,1320) (2492,1260) (2512,1210) (2534,1169) (2557,1130) (2592,1117) (2615,1095) (2633,1065) (2645,1030) (2651,1000) (2660,900) (2667,830) (2669,781) (2664,745) ([xshift=4pt]clist.south)};
\draw[mem] plot[smooth] coordinates {([yshift=11pt]tdecl.west) (2850,2575) (2720,2545) (2640,2528) ([yshift=-12pt]tident.east)};
\draw[mem] plot[smooth] coordinates {([xshift=11pt]tdecl.north) (3045,2562) (3060,2532) (3095,2465) (3125,2399) (3138,2330) (3144,2266) (3144,2150) (3144,2000) (3144,1800) (3144,1500) (3144,1300) (3146,1195) (3152,1100) (3160,1040) (3150,960) (3120,900) (3072,833) (2990,775) (2896,735) (2810,720) (2732,716) (2660,714) (2600,712) (2520,708) ([yshift=-6pt]texpr.east)};
\draw[mem] (listdecl.north) -- (tdecl.south);
\draw[mem] (bldecl.north) -- (listdecl.south);
% ---------------- octave values / functions
\draw[mem] plot[smooth] coordinates {([yshift=13pt]celt.east) (2720,202) (2800,186) (2896,169) (3030,148) ([yshift=-10pt]ctype.west)};
\draw[mem] (listcelt.north) -- (celt.south);
\draw[mem] plot[smooth] coordinates {([xshift=-54pt]blcelt.north) (2580,490) (2565,470) (2563,440) ([xshift=-9pt]listcelt.south)};
\draw[mem] plot[smooth] coordinates {([yshift=6pt]ovalue.east) (1820,680) (2050,650) (2300,625) (2520,595) (2720,566) (2770,556) ([yshift=-10pt]obv.west)};
\draw[mem] ([xshift=3pt]obv.north) -- ([xshift=-2pt]rcidx.south);
\draw[mem] (rcidx.north) -- (idxtype.south);
\draw[mem] ([xshift=13pt]otime.north) -- ([xshift=-13pt]timet.south);
\draw[mem] plot[smooth] coordinates {([xshift=-9pt]jittype.north) (2730,830) (2726,813) (2725,780) (2728,748) (2740,725) ([xshift=-25pt]typep.south)};
\draw[mem] plot[smooth] coordinates {([xshift=20pt]jittype.north) (2790,835) (2808,820) (2825,800) (2837,781) (2845,745) ([xshift=-11pt]valuep.south)};
\draw[mem] ([yshift=-6pt]jittype.east) .. controls (2825,885) and (2825,840) .. ([yshift=8pt]jittype.east);
\draw[mem] plot[smooth] coordinates {([yshift=5pt]jittype.west) (2600,843) (2500,830) (2400,818) (2316,807) (2290,780) (2281,755) (2272,738) (2264,729) (2150,724) (2000,720) (1800,716) (1550,712) (1300,708) (1100,704) (900,700) (780,698) (sizet.east)};
\draw[mem] plot[smooth] coordinates {([xshift=-4pt]vecjit.north) (2795,1100) (2785,1050) (2777,1000) (2768,940) (2760,910) ([xshift=5pt]jittype.south)};
\draw[mem] plot[smooth] coordinates {([xshift=-26pt]jitfi.north) (2875,1380) (2849,1364) (2808,1358) (2790,1340) (2785,1312) (2782,1260) (2785,1220) ([xshift=-10pt]vecjit.south)};
\draw[mem] plot[smooth] coordinates {([xshift=24pt]jitfi.north) (2985,1370) (3002,1338) (3008,1270) (3008,1195) (3003,1100) (2996,1000) (2993,920) (2990,846) (2980,750) (2966,651) (2940,600) ([xshift=12pt]obv.south)};
\draw[mem] (unwind.north) -- (stkelem.south);
\draw[mem] plot[smooth] coordinates {([xshift=-50pt]stkelem.north) (2710,1350) (2692,1299) (2682,1240) (elemp.south)};
\draw[mem] plot[smooth] coordinates {([xshift=10pt]ufcn.south) (3036,2020) (3045,2080) (3068,2200) (3095,2300) (3115,2399) (3123,2500) (3127,2599) (3127,2750) ([xshift=-4pt]tplist.north)};
\draw[mem] plot[smooth] coordinates {([yshift=-6pt]ufcn.west) (2850,1966) (2720,1960) (2550,1952) (2387,1943) (2360,1935) (2346,1924) (2328,1890) (2319,1846) (2318,1800) (2322,1748) (2335,1690) ([xshift=-11pt]tslist.south)};
\draw[mem] plot[smooth] coordinates {([yshift=2pt]ufcn.west) (2900,1956) (2867,1946) (2825,1932) (2790,1911) (2768,1870) (2755,1813) (2750,1760) (2755,1716) (2762,1680) ([xshift=-7pt]unwind.south)};
\draw[mem] plot[smooth] coordinates {([xshift=-13pt]ufcn.north) (2990,1900) (2972,1846) (2960,1750) (2949,1651) (2938,1540) (jitfi.south)};
\draw[mem] plot[smooth] coordinates {([xshift=35pt]ufcn.north) (3100,1900) (3143,1846) (3170,1790) (3189,1716) (3200,1620) (3205,1520) (3205,1350) (3205,1150) (3205,1000) (3206,850) (3207,700) (3207,620) (3212,580) ([xshift=-4pt]otime.south)};
\draw[mem] plot[smooth] coordinates {([yshift=6pt]ufcn.east) (3170,1948) (3248,1930) (3300,1895) (3336,1846) (3370,1750) (3395,1651) (3410,1520) (3424,1390) (3450,1230) (3477,1065) (3485,950) (3490,800) (3495,650) (3498,550) ([xshift=-2pt]liststr.south)};
\draw[mem] plot[smooth] coordinates {([xshift=-4pt]ufcn.north) (3015,1900) (3013,1846) (3008,1700) (3003,1550) (2996,1390) (2985,1200) (2962,1000) (2950,860) (2943,748) (2925,725) (2900,716) (2820,710) ([yshift=-8pt]clist.east)};
% ---------------- labels
\node[lbl] (l1) at (26,1797) {in\_src};
\node[lbl] (l2) at (77,461) {buffer};
\node[lbl] (l3) at (398,293) {keys};
\node[lbl] (l4) at (480,623) {eof};
\node[lbl] (l5) at (420,770) {chars\_left};
\node[lbl] (l6) at (115,770) {pos};
\node[lbl] (l7) at (806,537) {elements};
\node[lbl] (l8) at (900,538) {name};
\node[lbl] (l9) at (821,863) {name};
\node[lbl] (l10) at (918,770) {count};
\node[lbl] (l11) at (1000,174) {keys\\elements};
\node[lbl] (l12) at (1041,461) {keys};
\node[lbl] (l13) at (983,623) {dispatch\_map};
\node[lbl] (l14) at (1255,461) {elements};
\node[lbl] (l15) at (1768,623) {keys};
\node[lbl] (l16) at (1587,770) {elements};
\node[lbl] (l17) at (1678,770) {elements};
\node[lbl] (l18) at (1782,862) {built\_in\_function\\cmdline\_function\\function\_on\_path\\autoload\_function};
\node[lbl] (l19) at (1240,1016) {count};
\node[lbl] (l20) at (1494,1017) {class\_constructors\\private\_functions\\class\_methods};
\node[lbl] (l21) at (1649,1018) {subfunctions};
\node[lbl] (l22) at (2031,174) {txt};
\node[lbl] (l23) at (2602,293) {elements};
\node[lbl] (l24) at (2211,460) {column\_num\\line\_num\\bp};
\node[lbl] (l25) at (2583,461) {lst};
\node[lbl] (l26) at (2691,460) {curr\_print\_indent\_level\\beginning\_of\_line\\t\_id};
\node[lbl] (l27) at (2375,537) {postfix\_indexed\\num\_parens\\print\_flag};
\node[lbl] (l28) at (2579,622) {mskip\_paren\\mid\\msret\\mpointer\_arg};
\node[lbl] (l29) at (2504,623) {rep};
\node[lbl] (l30) at (2249,770) {cmd};
\node[lbl] (l31) at (2338,770) {mdepth};
\node[lbl] (l32) at (2389,770) {expr};
\node[lbl] (l33) at (2580,770) {comm};
\node[lbl] (l34) at (2213,863) {anon\_function\_body\\script\_body\\function\_body};
\node[lbl] (l35) at (1886,863) {elements};
\node[lbl] (l36) at (2535,1017) {end\_location\_line\\call\_depth\\location\_line\\system\_fcn\_file\\local\_scope\\class\_method\\anonymous\_function\\subfunction\\location\_column\\t\_id\\...};
\node[lbl] (l37) at (2406,1018) {elements};
\node[lbl] (l38) at (3006,174) {typ};
\node[lbl] (l39) at (2927,293) {count};
\node[lbl] (l40) at (3028,292) {c\_name\\t\_name};
\node[lbl] (l41) at (3515,230) {elements};
\node[lbl] (l42) at (3170,375) {my\_name\\doc\\my\_dir\_name\\xdispatch\_class};
\node[lbl] (l43) at (2813,461) {mname};
\node[lbl] (l44) at (2920,461) {count};
\node[lbl] (l45) at (3099,461) {ot\_usec};
\node[lbl] (l46) at (3327,461) {ot\_unix\_time};
\node[lbl] (l47) at (3060,537) {private\_function\\locked\\relative};
\node[lbl] (l48) at (2776,770) {llvm\_type\\mpacked\_type};
\node[lbl] (l49) at (2876,770) {mpack\\munpack};
\node[lbl] (l50) at (3449,769) {parent\_name\\file\_name\\c\_name\\t\_name};
\node[lbl] (l51) at (2834,863) {mparent};
\node[lbl] (l52) at (3012,863) {function};
\node[lbl] (l53) at (2826,1015) {elements};
\node[lbl] (l54) at (3532,1018) {subfcn\_names};
\node[lbl] (l55) at (738,1161) {orig\_text\\str};
\node[lbl] (l56) at (883,1416) {tspc\\maybe\_cmd\\column\_num\\tok\_val\\line\_num};
\node[lbl] (l57) at (243,1536) {comment\_text\\current\_input\_line\\fcn\_file\_full\_name\\fcn\_file\_name\\help\_text\\string\_text};
\node[lbl] (l58) at (471,1537) {elements};
\node[lbl] (l59) at (334,1966) {pending\_local\_variables};
\node[lbl] (l60) at (676,1966) {sz};
\node[lbl] (l61) at (996,1161) {frame\_stack};
\node[lbl] (l62) at (1136,1161) {elements};
\node[lbl] (l63) at (1482,1278) {rep};
\node[lbl] (l64) at (1363,1537) {count};
\node[lbl] (l65) at (1150,1797) {looping\\looking\_for\_object\\\_index\\looking\_at\_anon\\\_fcn\_args\\braceflag\\quote\_is\_transpose\\string\_column\\parsing\_class\_method\\looking\_at\_function\\\_handle\\current\_input\_column\\block\_comment\_nesting\\\_level\\...};
\node[lbl] (l66) at (1645,1796) {finfo};
\node[lbl] (l67) at (1957,1161) {valid\\decl\_scope};
\node[lbl] (l68) at (2016,1279) {added\_static\\global\\inherited\\local\\hidden\\persistent\\automatic\\formal};
\node[lbl] (l69) at (1843,1627) {value\_stack};
\node[lbl] (l70) at (1745,2029) {storage\_class};
\node[lbl] (l71) at (2022,2029) {curr\_fcn};
\node[lbl] (l72) at (2093,2028) {pflag\\count};
\node[lbl] (l73) at (2190,2391) {comment\_buf};
\node[lbl] (l74) at (2535,2448) {sym};
\node[lbl] (l75) at (2387,1796) {cmd\_list};
\node[lbl] (l76) at (2369,1278) {lst};
\node[lbl] (l77) at (2594,1161) {comment\_list};
\node[lbl] (l78) at (2789,1536) {lifo};
\node[lbl] (l79) at (2850,1278) {argument\_types};
\node[lbl] (l80) at (3030,1279) {lead\_comm\\trail\_comm};
\node[lbl] (l81) at (2968,1627) {jit\_info};
\node[lbl] (l82) at (2857,1797) {curr\_unwind\_protect\\\_frame};
\node[lbl] (l83) at (3239,1161) {t\_checked\\t\_parsed};
\node[lbl] (l84) at (3317,1416) {scope};
\node[lbl] (l85) at (3160,1966) {expr};
\node[lbl] (l86) at (3616,1966) {in\_src};
\node[lbl] (l87) at (2744,1278) {elements};
\node[lbl] (l88) at (139,2162) {input\_buf};
\node[lbl] (l89) at (485,2029) {parsed\_function\_name};
\node[lbl] (l90) at (592,2029) {token\_count};
\node[lbl] (l91) at (813,2309) {mc};
\node[lbl] (l92) at (895,2309) {et};
\node[lbl] (l93) at (929,2448) {elements};
\node[lbl] (l94) at (396,2549) {context};
\node[lbl] (l95) at (778,2549) {buffer};
\node[lbl] (l96) at (250,2665) {start\_state\_stack};
\node[lbl] (l97) at (425,2665) {nesting\_level};
\node[lbl] (l98) at (619,2665) {tokens};
\node[lbl] (l99) at (472,2778) {scanner};
\node[lbl] (l100) at (944,2309) {num};
\node[lbl] (l101) at (989,2309) {@29};
\node[lbl] (l102) at (1050,2309) {sc};
\node[lbl] (l103) at (1146,2309) {type\_tag};
\node[lbl] (l104) at (1629,2309) {pr\\mr\\cr\\sr};
\node[lbl] (l105) at (1259,2391) {symtab\_context};
\node[lbl] (l106) at (1449,2448) {looking\_at\_object\_index};
\node[lbl] (l107) at (1465,2890) {lexer};
\node[lbl] (l108) at (1852,2163) {rep};
\node[lbl] (l109) at (2352,2309) {sym};
\node[lbl] (l110) at (2792,2549) {id};
\node[lbl] (l111) at (3047,2665) {elements};
\node[lbl] (l112) at (3027,2778) {lst};
\node[lbl] (l113) at (3164,2499) {param\_list\\ret\_list};
\node[lbl] (l114) at (3494,2029) {marked\_for\_varargs};
\end{tikzpicture}
\end{document}
